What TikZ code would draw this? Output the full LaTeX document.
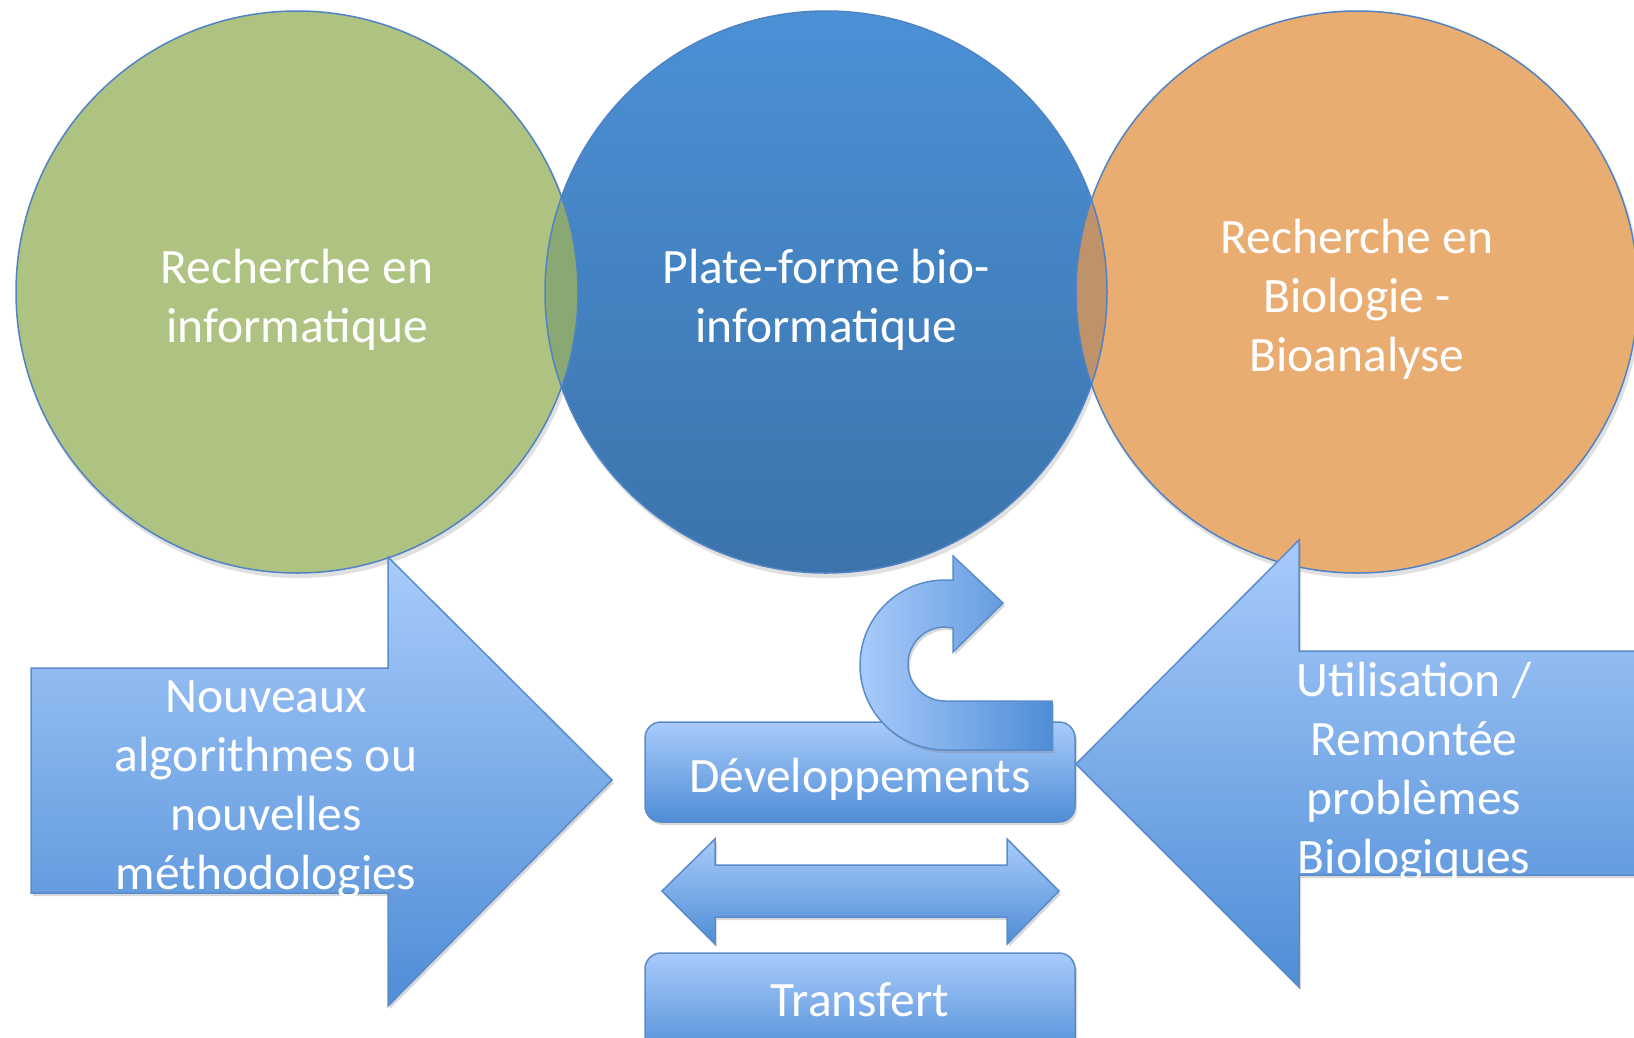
\documentclass[tikz,border=0pt]{standalone}
\usepackage{fontspec}
\setmainfont{Carlito}
\usetikzlibrary{shadows}
\definecolor{bluetop}{HTML}{4B91D6}
\definecolor{bluebot}{HTML}{3C73AB}
\definecolor{greenc}{HTML}{AEC381}
\definecolor{orangec}{HTML}{E9AD72}
\definecolor{greenov}{HTML}{89A873}
\definecolor{orangeov}{HTML}{C09269}
\definecolor{circline}{HTML}{4F83C4}
\definecolor{blktop}{HTML}{A8CBFB}
\definecolor{blkbot}{HTML}{4F8DD6}
\definecolor{blkline}{HTML}{5A8CCB}
\tikzset{
  circedge/.style={draw=circline, line width=1.5pt},
  blockshape/.style={top color=blktop, bottom color=blkbot, draw=blkline, line width=1.5pt,
     drop shadow={opacity=0.3, shadow xshift=2pt, shadow yshift=-3pt}},
  lbl/.style={text=white, align=center, inner sep=0pt, font=\fontsize{49.5}{59}\selectfont}
}
\begin{document}
\begin{tikzpicture}[x=1pt,y=-1pt]
\useasboundingbox (0,0) rectangle (1634,1037);
\fill[white] (0,0) rectangle (1634,1037);
\coordinate (cg) at (297,292);
\coordinate (cb) at (826,292);
\coordinate (co) at (1357,292);
% circle shadows
\fill[black, opacity=0.12] (299,296) circle[radius=282pt];
\fill[black, opacity=0.12] (828,296) circle[radius=282pt];
\fill[black, opacity=0.12] (1359,296) circle[radius=282pt];
% circles
\shade[top color=bluetop, bottom color=bluebot] (cb) circle[radius=281pt];
\fill[greenc] (cg) circle[radius=281pt];
\fill[orangec] (co) circle[radius=281pt];
\begin{scope}
  \clip (cb) circle[radius=281pt];
  \fill[greenov] (cg) circle[radius=281pt];
  \fill[orangeov] (co) circle[radius=281pt];
\end{scope}
\draw[circedge] (cg) circle[radius=281pt];
\draw[circedge] (cb) circle[radius=281pt];
\draw[circedge] (co) circle[radius=281pt];
% boxes
\path[blockshape, rounded corners=16pt] (645,722) rectangle (1075,822);
\path[blockshape, rounded corners=16pt] (645,953) rectangle (1075,1060);
% double arrow
\path[blockshape] (662,891) -- (715,839) -- (715,865) -- (1007,865) -- (1007,839) -- (1059,891)
   -- (1007,944) -- (1007,917) -- (715,917) -- (715,944) -- cycle;
% U-turn arrow
\path[left color=blktop, right color=blkbot, draw=blkline, line width=1.5pt,
      drop shadow={opacity=0.3, shadow xshift=2pt, shadow yshift=-3pt}]
  (1003,603) -- (953,556) -- (953,580) -- (945,580)
  arc[start angle=90, end angle=270, radius=85pt]
  -- (1052,750) -- (1052,701) -- (945,701)
  arc[start angle=270, end angle=90, radius=37pt]
  -- (953,628) -- (953,652) -- cycle;
% left block arrow
\path[blockshape] (31,668) -- (388,668) -- (388,557) -- (612,780) -- (388,1006) -- (388,893) -- (31,893) -- cycle;
% right block arrow
\path[blockshape] (1076,764) -- (1299,540) -- (1299,651) -- (1660,651) -- (1660,875) -- (1299,875) -- (1299,987) -- cycle;
% labels
\node[lbl] (tg) at (297,300) {Recherche en\\informatique};
\node[lbl] (tb) at (826,300) {Plate-forme bio-\\informatique};
\node[lbl] (to) at (1357,299) {Recherche en\\Biologie -\\Bioanalyse};
\node[lbl] (tl) at (266,789) {Nouveaux\\algorithmes ou\\nouvelles\\méthodologies};
\node[lbl] (tr) at (1414,772) {Utilisation /\\Remontée\\problèmes\\Biologiques};
\node[lbl] (td) at (860,779) {Développements};
\node[lbl] (tt) at (860,1000) {Transfert};
\end{tikzpicture}
\end{document}
